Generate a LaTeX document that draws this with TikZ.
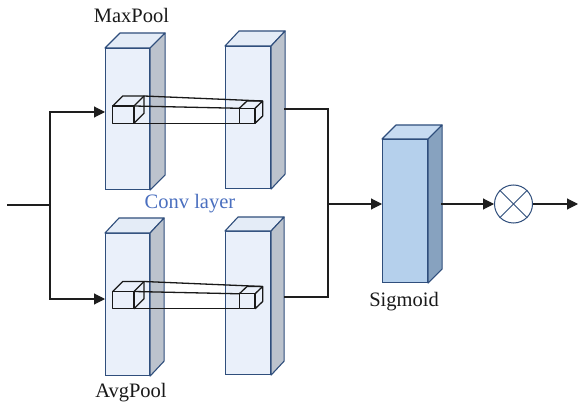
\documentclass[tikz,border=0pt]{standalone}
\usepackage{fontspec}
\setmainfont{Liberation Serif}
\usetikzlibrary{arrows.meta,calc,shapes.geometric}

\definecolor{edgeblue}{HTML}{2F4E7C}
\definecolor{slabfront}{HTML}{EAF0FA}
\definecolor{slabtop}{HTML}{E4ECF7}
\definecolor{slabside}{HTML}{BCC3CD}
\definecolor{sigfront}{HTML}{B5D0EC}
\definecolor{sigtop}{HTML}{C7DBF1}
\definecolor{sigside}{HTML}{87A2BF}
\definecolor{convblue}{HTML}{4A6FBF}
\definecolor{linegrey}{HTML}{1E1E1E}

% a cuboid: named front face plus top and side faces
% #1 name, #2 x, #3 y (top of front face), #4 width, #5 height, #6 dx, #7 dy,
% #8 front colour, #9 top colour, side colour via \cubside
\newcommand{\cubside}{slabside}
\newcommand{\cuboidblock}[9]{%
  \node[draw=edgeblue, fill=#8, line width=1.1pt, inner sep=0pt, anchor=north west,
        minimum width=#4pt, minimum height=#5pt] (#1) at (#2,#3) {};
  \draw[draw=edgeblue, fill=#9, line width=1.1pt, line join=round]
    (#1.north west) -- ++(#6,#7) -- ($(#1.north east)+(#6,#7)$) -- (#1.north east) -- cycle;
  \draw[draw=edgeblue, fill=\cubside, line width=1.1pt, line join=round]
    (#1.north east) -- ++(#6,#7) -- ($(#1.south east)+(#6,#7)$) -- (#1.south east) -- cycle;
}

% a small wire-frame cube with named corners
% #1 name, #2 x, #3 y, #4 width, #5 height, #6 dx, #7 dy
\newcommand{\wirecube}[7]{%
  \coordinate (#1-ftl) at (#2,#3);
  \coordinate (#1-ftr) at ($(#2,#3)+(#4,0)$);
  \coordinate (#1-fbr) at ($(#2,#3)+(#4,#5)$);
  \coordinate (#1-fbl) at ($(#2,#3)+(0,#5)$);
  \coordinate (#1-btl) at ($(#1-ftl)+(#6,#7)$);
  \coordinate (#1-btr) at ($(#1-ftr)+(#6,#7)$);
  \coordinate (#1-bbr) at ($(#1-fbr)+(#6,#7)$);
  \draw[cubeline] (#1-ftl) rectangle (#1-fbr);
  \draw[cubeline] (#1-ftl) -- (#1-btl) -- (#1-btr) -- (#1-bbr) -- (#1-fbr);
  \draw[cubeline] (#1-ftr) -- (#1-btr);
}

\tikzset{
  conn/.style={draw=linegrey, line width=1.1pt},
  arr/.style={conn, -{Triangle[length=11pt,width=11pt]}},
  cubeline/.style={draw=black!90, line width=1.3pt, line join=round},
  lbl/.style={font=\fontsize{20.5}{24}\selectfont, text=black!90, inner sep=0pt, anchor=base},
}

\begin{document}
\begin{tikzpicture}[x=1pt,y=-1pt]
\useasboundingbox[fill=white] (0,0) rectangle (578,406);

% feature slabs
\cuboidblock{mpA}{105}{48}{44}{141}{15}{-15}{slabfront}{slabtop}{}
\cuboidblock{mpB}{225}{46}{45}{142}{14}{-15}{slabfront}{slabtop}{}
\cuboidblock{apA}{105}{233}{44}{142}{14}{-15}{slabfront}{slabtop}{}
\cuboidblock{apB}{225}{231}{45}{143}{13}{-14}{slabfront}{slabtop}{}

% convolution kernels and their projection
\wirecube{mk}{112.7}{106}{21.3}{17.3}{10}{-10}
\wirecube{mo}{239.3}{108.3}{15.7}{15}{7.7}{-7.3}
\draw[cubeline] (mk-btr) -- (mo-btr);
\draw[cubeline] (mk-ftr) -- (mo-ftl);
\draw[cubeline] (mk-fbr) -- (mo-fbl);

\wirecube{ak}{112.7}{291.5}{21.3}{17.3}{10}{-10}
\wirecube{ao}{239.3}{293.8}{15.7}{15}{7.7}{-7.3}
\draw[cubeline] (ak-btr) -- (ao-btr);
\draw[cubeline] (ak-ftr) -- (ao-ftl);
\draw[cubeline] (ak-fbr) -- (ao-fbl);

% sigmoid block
\renewcommand{\cubside}{sigside}
\cuboidblock{sig}{382}{139}{45}{143}{14}{-14}{sigfront}{sigtop}{}

% element-wise multiplication
\node[circle, draw=edgeblue, line width=1pt, minimum size=38pt, inner sep=0pt, fill=white] (mul) at (513.5,204) {};
\draw[edgeblue, line width=0.9pt] (mul.north west) -- (mul.south east);
\draw[edgeblue, line width=0.9pt] (mul.north east) -- (mul.south west);

% connectors
\coordinate (in) at (7,205);
\coordinate (split) at (50,205);
\coordinate (mpIn) at (105,112);
\coordinate (apIn) at (105,299);
\coordinate (mpOut) at (284,109);
\coordinate (apOut) at (284,297);
\coordinate (merge) at (328,204);
\coordinate (sigOut) at (441,204);
\coordinate (out) at (578,204);

\draw[conn] (in) -- (split);
\draw[arr] (split) |- (mpIn);
\draw[arr] (split) |- (apIn);
\draw[conn] (mpOut) -| (merge);
\draw[conn] (apOut) -| (merge);
\draw[arr] (merge) -- (sig.west |- merge);
\draw[arr] (sigOut) -- (mul.west);
\draw[arr] (mul.east) -- (out);

% labels
\node[lbl] (lmax) at (131.5,23) {MaxPool};
\node[lbl, text=convblue] (lconv) at (190,208.5) {Conv layer};
\node[lbl] (lavg) at (131,397) {AvgPool};
\node[lbl] (lsig) at (404,306) {Sigmoid};
\end{tikzpicture}
\end{document}
